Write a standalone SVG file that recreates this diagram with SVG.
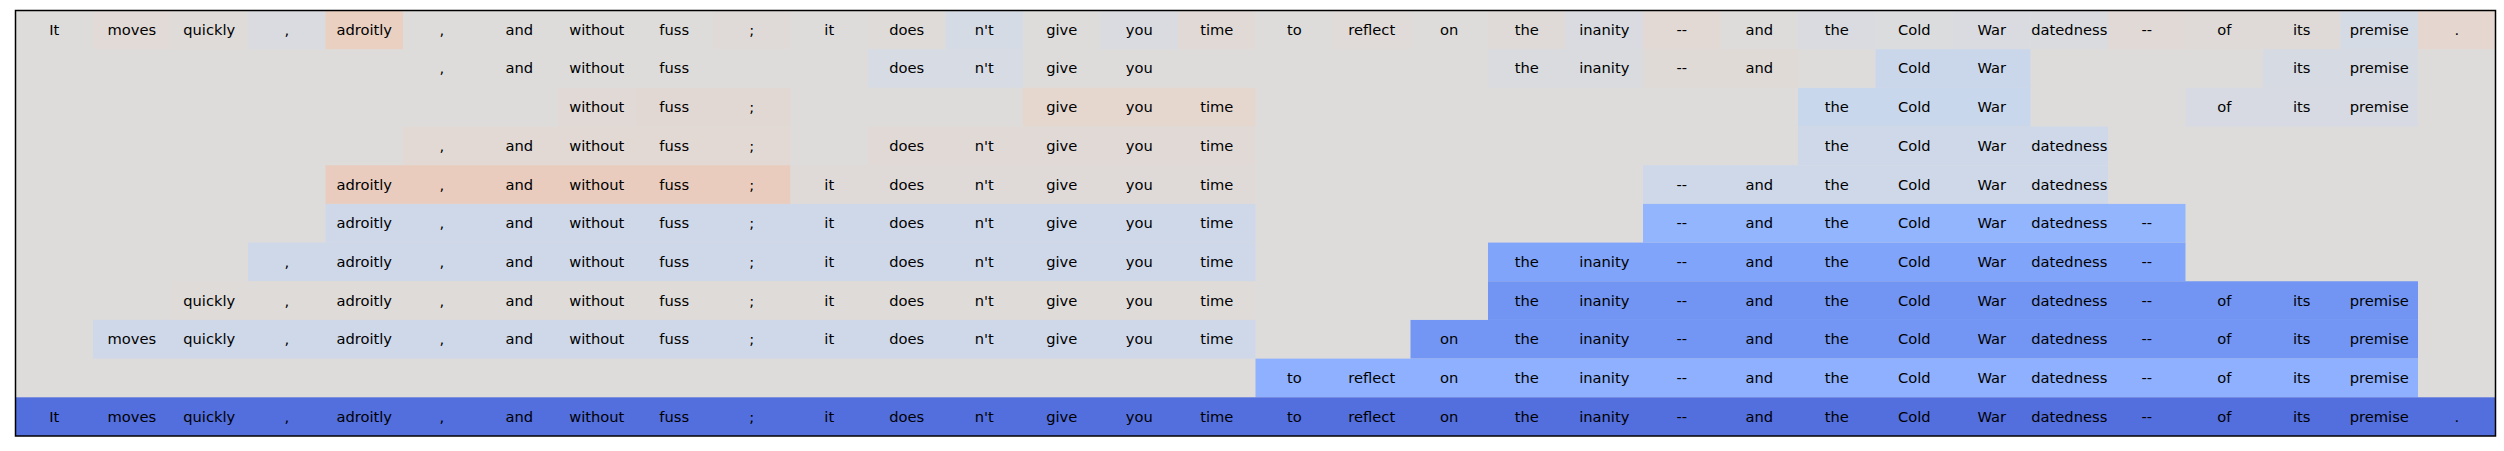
<svg xmlns="http://www.w3.org/2000/svg" width="2504" height="451" viewBox="0 0 2504 451">
<style>
text{font-family:"DejaVu Sans","Liberation Sans",sans-serif;font-size:14.7px;fill:#000;text-anchor:middle}
.c{height:38.68px}
</style>
<rect width="2504" height="451" fill="#ffffff"/>
<rect x="15.5" y="10.5" width="2480" height="425.5" fill="#dddcdb"/>
<g id="row0" transform="translate(0,10.5)">
<rect x="93" width="77.5" height="38.68" fill="#e2dad7"/>
<rect x="170.5" width="77.5" height="38.68" fill="#dfdbd9"/>
<rect x="248" width="77.5" height="38.68" fill="#d9dbe0"/>
<rect x="325.5" width="77.5" height="38.68" fill="#ead0c1"/>
<rect x="713" width="77.5" height="38.68" fill="#dfdad8"/>
<rect x="868" width="77.5" height="38.68" fill="#dfdbd9"/>
<rect x="945.5" width="77.5" height="38.68" fill="#d5dbe4"/>
<rect x="1100.5" width="77.5" height="38.68" fill="#d9dbe0"/>
<rect x="1178" width="77.5" height="38.68" fill="#e0d9d6"/>
<rect x="1333" width="77.5" height="38.68" fill="#e0dad8"/>
<rect x="1488" width="77.5" height="38.68" fill="#dfdad8"/>
<rect x="1565.5" width="77.5" height="38.68" fill="#d9dbe0"/>
<rect x="1643" width="77.5" height="38.68" fill="#e2d9d5"/>
<rect x="1798" width="77.5" height="38.68" fill="#d9dbe0"/>
<rect x="1875.5" width="77.5" height="38.68" fill="#dbdcde"/>
<rect x="1953" width="77.5" height="38.68" fill="#d9dbe0"/>
<rect x="2030.5" width="77.5" height="38.68" fill="#dadbdf"/>
<rect x="2108" width="77.5" height="38.68" fill="#e0d9d6"/>
<rect x="2185.5" width="155" height="38.68" fill="#dfdad8"/>
<rect x="2340.5" width="77.5" height="38.68" fill="#d5dbe4"/>
<rect x="2418" width="77.5" height="38.68" fill="#e5d7cf"/>
<text x="54.25" y="24.3">It</text><text x="131.75" y="24.3">moves</text><text x="209.25" y="24.3">quickly</text><text x="286.75" y="24.3">,</text><text x="364.25" y="24.3">adroitly</text><text x="441.75" y="24.3">,</text><text x="519.25" y="24.3">and</text><text x="596.75" y="24.3">without</text><text x="674.25" y="24.3">fuss</text><text x="751.75" y="24.3">;</text><text x="829.25" y="24.3">it</text><text x="906.75" y="24.3">does</text><text x="984.25" y="24.3">n't</text><text x="1061.75" y="24.3">give</text><text x="1139.25" y="24.3">you</text><text x="1216.75" y="24.3">time</text><text x="1294.25" y="24.3">to</text><text x="1371.75" y="24.3">reflect</text><text x="1449.25" y="24.3">on</text><text x="1526.75" y="24.3">the</text><text x="1604.25" y="24.3">inanity</text><text x="1681.75" y="24.3">--</text><text x="1759.25" y="24.3">and</text><text x="1836.75" y="24.3">the</text><text x="1914.25" y="24.3">Cold</text><text x="1991.75" y="24.3">War</text><text x="2069.25" y="24.3">datedness</text><text x="2146.75" y="24.3">--</text><text x="2224.25" y="24.3">of</text><text x="2301.75" y="24.3">its</text><text x="2379.25" y="24.3">premise</text><text x="2456.75" y="24.3">.</text>
</g>
<g id="row1" transform="translate(0,49.18)">
<rect x="868" width="155" height="38.68" fill="#d7dbe3"/>
<rect x="1488" width="155" height="38.68" fill="#d9dbdf"/>
<rect x="1643" width="155" height="38.68" fill="#e0dad7"/>
<rect x="1875.5" width="155" height="38.68" fill="#cad7eb"/>
<rect x="2263" width="155" height="38.68" fill="#d6dae2"/>
<text x="441.75" y="24.3">,</text><text x="519.25" y="24.3">and</text><text x="596.75" y="24.3">without</text><text x="674.25" y="24.3">fuss</text><text x="906.75" y="24.3">does</text><text x="984.25" y="24.3">n't</text><text x="1061.75" y="24.3">give</text><text x="1139.25" y="24.3">you</text><text x="1526.75" y="24.3">the</text><text x="1604.25" y="24.3">inanity</text><text x="1681.75" y="24.3">--</text><text x="1759.25" y="24.3">and</text><text x="1914.25" y="24.3">Cold</text><text x="1991.75" y="24.3">War</text><text x="2301.75" y="24.3">its</text><text x="2379.25" y="24.3">premise</text>
</g>
<g id="row2" transform="translate(0,87.86)">
<rect x="558" width="77.5" height="38.68" fill="#e1d9d5"/>
<rect x="635.5" width="155" height="38.68" fill="#e2d8d3"/>
<rect x="1023" width="232.5" height="38.68" fill="#e5d6ce"/>
<rect x="1798" width="232.5" height="38.68" fill="#c9d7ec"/>
<rect x="2185.5" width="232.5" height="38.68" fill="#d7dae2"/>
<text x="596.75" y="24.3">without</text><text x="674.25" y="24.3">fuss</text><text x="751.75" y="24.3">;</text><text x="1061.75" y="24.3">give</text><text x="1139.25" y="24.3">you</text><text x="1216.75" y="24.3">time</text><text x="1836.75" y="24.3">the</text><text x="1914.25" y="24.3">Cold</text><text x="1991.75" y="24.3">War</text><text x="2224.25" y="24.3">of</text><text x="2301.75" y="24.3">its</text><text x="2379.25" y="24.3">premise</text>
</g>
<g id="row3" transform="translate(0,126.55)">
<rect x="403" width="387.5" height="38.68" fill="#e2d9d5"/>
<rect x="868" width="387.5" height="38.68" fill="#e1d9d6"/>
<rect x="1798" width="310" height="38.68" fill="#ced8e9"/>
<text x="441.75" y="24.3">,</text><text x="519.25" y="24.3">and</text><text x="596.75" y="24.3">without</text><text x="674.25" y="24.3">fuss</text><text x="751.75" y="24.3">;</text><text x="906.75" y="24.3">does</text><text x="984.25" y="24.3">n't</text><text x="1061.75" y="24.3">give</text><text x="1139.25" y="24.3">you</text><text x="1216.75" y="24.3">time</text><text x="1836.75" y="24.3">the</text><text x="1914.25" y="24.3">Cold</text><text x="1991.75" y="24.3">War</text><text x="2069.25" y="24.3">datedness</text>
</g>
<g id="row4" transform="translate(0,165.23)">
<rect x="325.5" width="465" height="38.68" fill="#eaccbe"/>
<rect x="790.5" width="465" height="38.68" fill="#dfdad8"/>
<rect x="1643" width="465" height="38.68" fill="#cfd8e9"/>
<text x="364.25" y="24.3">adroitly</text><text x="441.75" y="24.3">,</text><text x="519.25" y="24.3">and</text><text x="596.75" y="24.3">without</text><text x="674.25" y="24.3">fuss</text><text x="751.75" y="24.3">;</text><text x="829.25" y="24.3">it</text><text x="906.75" y="24.3">does</text><text x="984.25" y="24.3">n't</text><text x="1061.75" y="24.3">give</text><text x="1139.25" y="24.3">you</text><text x="1216.75" y="24.3">time</text><text x="1681.75" y="24.3">--</text><text x="1759.25" y="24.3">and</text><text x="1836.75" y="24.3">the</text><text x="1914.25" y="24.3">Cold</text><text x="1991.75" y="24.3">War</text><text x="2069.25" y="24.3">datedness</text>
</g>
<g id="row5" transform="translate(0,203.91)">
<rect x="325.5" width="930" height="38.68" fill="#cfd8e9"/>
<rect x="1643" width="542.5" height="38.68" fill="#93b5fe"/>
<text x="364.25" y="24.3">adroitly</text><text x="441.75" y="24.3">,</text><text x="519.25" y="24.3">and</text><text x="596.75" y="24.3">without</text><text x="674.25" y="24.3">fuss</text><text x="751.75" y="24.3">;</text><text x="829.25" y="24.3">it</text><text x="906.75" y="24.3">does</text><text x="984.25" y="24.3">n't</text><text x="1061.75" y="24.3">give</text><text x="1139.25" y="24.3">you</text><text x="1216.75" y="24.3">time</text><text x="1681.75" y="24.3">--</text><text x="1759.25" y="24.3">and</text><text x="1836.75" y="24.3">the</text><text x="1914.25" y="24.3">Cold</text><text x="1991.75" y="24.3">War</text><text x="2069.25" y="24.3">datedness</text><text x="2146.75" y="24.3">--</text>
</g>
<g id="row6" transform="translate(0,242.59)">
<rect x="248" width="1007.5" height="38.68" fill="#cfd8e9"/>
<rect x="1488" width="697.5" height="38.68" fill="#81a4fb"/>
<text x="286.75" y="24.3">,</text><text x="364.25" y="24.3">adroitly</text><text x="441.75" y="24.3">,</text><text x="519.25" y="24.3">and</text><text x="596.75" y="24.3">without</text><text x="674.25" y="24.3">fuss</text><text x="751.75" y="24.3">;</text><text x="829.25" y="24.3">it</text><text x="906.75" y="24.3">does</text><text x="984.25" y="24.3">n't</text><text x="1061.75" y="24.3">give</text><text x="1139.25" y="24.3">you</text><text x="1216.75" y="24.3">time</text><text x="1526.75" y="24.3">the</text><text x="1604.25" y="24.3">inanity</text><text x="1681.75" y="24.3">--</text><text x="1759.25" y="24.3">and</text><text x="1836.75" y="24.3">the</text><text x="1914.25" y="24.3">Cold</text><text x="1991.75" y="24.3">War</text><text x="2069.25" y="24.3">datedness</text><text x="2146.75" y="24.3">--</text>
</g>
<g id="row7" transform="translate(0,281.27)">
<rect x="170.5" width="1085" height="38.68" fill="#dfdbd9"/>
<rect x="1488" width="930" height="38.68" fill="#7295f4"/>
<text x="209.25" y="24.3">quickly</text><text x="286.75" y="24.3">,</text><text x="364.25" y="24.3">adroitly</text><text x="441.75" y="24.3">,</text><text x="519.25" y="24.3">and</text><text x="596.75" y="24.3">without</text><text x="674.25" y="24.3">fuss</text><text x="751.75" y="24.3">;</text><text x="829.25" y="24.3">it</text><text x="906.75" y="24.3">does</text><text x="984.25" y="24.3">n't</text><text x="1061.75" y="24.3">give</text><text x="1139.25" y="24.3">you</text><text x="1216.75" y="24.3">time</text><text x="1526.75" y="24.3">the</text><text x="1604.25" y="24.3">inanity</text><text x="1681.75" y="24.3">--</text><text x="1759.25" y="24.3">and</text><text x="1836.75" y="24.3">the</text><text x="1914.25" y="24.3">Cold</text><text x="1991.75" y="24.3">War</text><text x="2069.25" y="24.3">datedness</text><text x="2146.75" y="24.3">--</text><text x="2224.25" y="24.3">of</text><text x="2301.75" y="24.3">its</text><text x="2379.25" y="24.3">premise</text>
</g>
<g id="row8" transform="translate(0,319.95)">
<rect x="93" width="1162.5" height="38.68" fill="#cfd8e9"/>
<rect x="1410.5" width="1007.5" height="38.68" fill="#7396f5"/>
<text x="131.75" y="24.3">moves</text><text x="209.25" y="24.3">quickly</text><text x="286.75" y="24.3">,</text><text x="364.25" y="24.3">adroitly</text><text x="441.75" y="24.3">,</text><text x="519.25" y="24.3">and</text><text x="596.75" y="24.3">without</text><text x="674.25" y="24.3">fuss</text><text x="751.75" y="24.3">;</text><text x="829.25" y="24.3">it</text><text x="906.75" y="24.3">does</text><text x="984.25" y="24.3">n't</text><text x="1061.75" y="24.3">give</text><text x="1139.25" y="24.3">you</text><text x="1216.75" y="24.3">time</text><text x="1449.25" y="24.3">on</text><text x="1526.75" y="24.3">the</text><text x="1604.25" y="24.3">inanity</text><text x="1681.75" y="24.3">--</text><text x="1759.25" y="24.3">and</text><text x="1836.75" y="24.3">the</text><text x="1914.25" y="24.3">Cold</text><text x="1991.75" y="24.3">War</text><text x="2069.25" y="24.3">datedness</text><text x="2146.75" y="24.3">--</text><text x="2224.25" y="24.3">of</text><text x="2301.75" y="24.3">its</text><text x="2379.25" y="24.3">premise</text>
</g>
<g id="row9" transform="translate(0,358.64)">
<rect x="1255.5" width="1162.5" height="38.68" fill="#8eb0fe"/>
<text x="1294.25" y="24.3">to</text><text x="1371.75" y="24.3">reflect</text><text x="1449.25" y="24.3">on</text><text x="1526.75" y="24.3">the</text><text x="1604.25" y="24.3">inanity</text><text x="1681.75" y="24.3">--</text><text x="1759.25" y="24.3">and</text><text x="1836.75" y="24.3">the</text><text x="1914.25" y="24.3">Cold</text><text x="1991.75" y="24.3">War</text><text x="2069.25" y="24.3">datedness</text><text x="2146.75" y="24.3">--</text><text x="2224.25" y="24.3">of</text><text x="2301.75" y="24.3">its</text><text x="2379.25" y="24.3">premise</text>
</g>
<g id="row10" transform="translate(0,397.32)">
<rect x="15.5" width="2480" height="38.68" fill="#536edd"/>
<text x="54.25" y="24.3">It</text><text x="131.75" y="24.3">moves</text><text x="209.25" y="24.3">quickly</text><text x="286.75" y="24.3">,</text><text x="364.25" y="24.3">adroitly</text><text x="441.75" y="24.3">,</text><text x="519.25" y="24.3">and</text><text x="596.75" y="24.3">without</text><text x="674.25" y="24.3">fuss</text><text x="751.75" y="24.3">;</text><text x="829.25" y="24.3">it</text><text x="906.75" y="24.3">does</text><text x="984.25" y="24.3">n't</text><text x="1061.75" y="24.3">give</text><text x="1139.25" y="24.3">you</text><text x="1216.75" y="24.3">time</text><text x="1294.25" y="24.3">to</text><text x="1371.75" y="24.3">reflect</text><text x="1449.25" y="24.3">on</text><text x="1526.75" y="24.3">the</text><text x="1604.25" y="24.3">inanity</text><text x="1681.75" y="24.3">--</text><text x="1759.25" y="24.3">and</text><text x="1836.75" y="24.3">the</text><text x="1914.25" y="24.3">Cold</text><text x="1991.75" y="24.3">War</text><text x="2069.25" y="24.3">datedness</text><text x="2146.75" y="24.3">--</text><text x="2224.25" y="24.3">of</text><text x="2301.75" y="24.3">its</text><text x="2379.25" y="24.3">premise</text><text x="2456.75" y="24.3">.</text>
</g>
<g id="connectors"></g>
<rect x="15.5" y="10.5" width="2480" height="425.5" fill="none" stroke="#000" stroke-width="1.5"/>
</svg>
